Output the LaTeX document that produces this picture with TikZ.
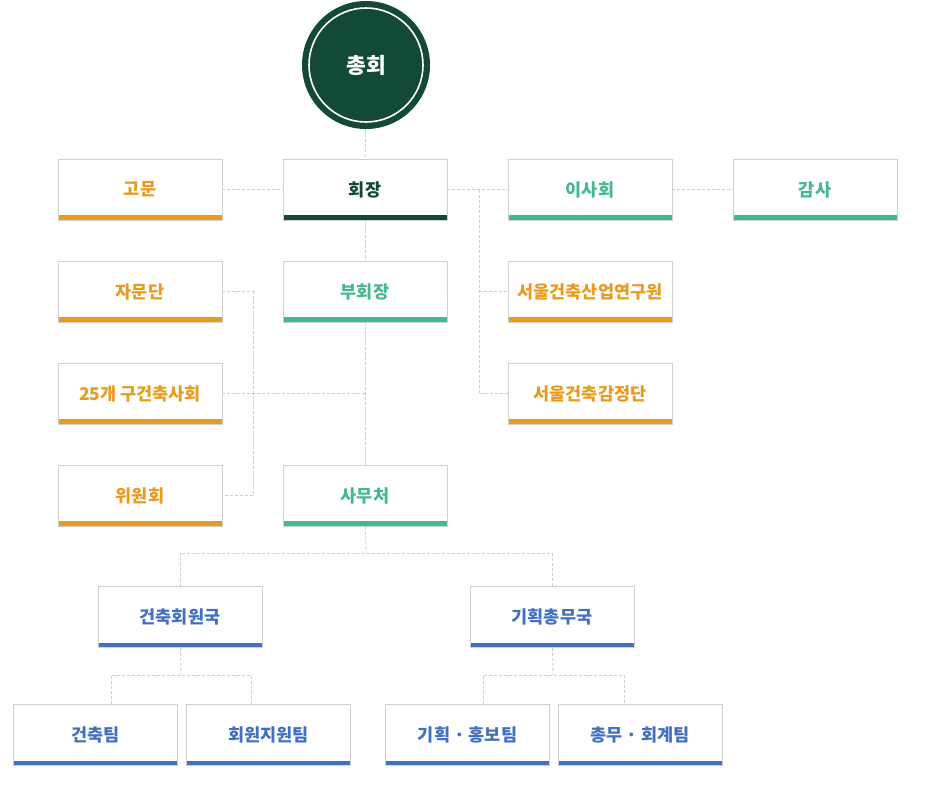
\documentclass[tikz,border=0pt]{standalone}
\usepackage{fontspec}
\newfontfamily\krfont{Noto Sans CJK KR}
\usetikzlibrary{calc}
\definecolor{dkgreen}{RGB}{19,74,53}
\definecolor{ltgreen}{RGB}{69,185,138}
\definecolor{amber}{RGB}{232,155,28}
\definecolor{steel}{RGB}{67,112,190}
\definecolor{boxgray}{RGB}{208,208,208}
\definecolor{linegray}{RGB}{205,205,205}

\begin{document}
\begin{tikzpicture}[x=1pt,y=-1pt,
  unit/.style={rectangle, draw=boxgray, line width=0.8pt, fill=white,
    minimum width=164pt, minimum height=61pt, inner sep=0pt,
    text=#1, font=\krfont\bfseries\fontsize{17.5}{19}\selectfont,
    path picture={\fill[#1] (path picture bounding box.south west)
      rectangle ([yshift=5pt]path picture bounding box.south east);}},
  link/.style={draw=linegray, line width=0.9pt, dash pattern=on 3pt off 2pt}]

\useasboundingbox (0,0) rectangle (928,806);

% Top
  \node[circle, fill=dkgreen, minimum size=128pt, inner sep=0pt, text=white,
    font=\krfont\bfseries\fontsize{21.5}{23}\selectfont] (top) at (366,65) {총회};
  \draw[white, line width=1.6pt] (top.center) circle[radius=57pt];

% Row 1
  \node[unit=amber] (advisor) at (140,189.5) {고문};
  \node[unit=dkgreen] (chair) at (365,189.5) {회장};
  \node[unit=ltgreen] (board) at (590,189.5) {이사회};
  \node[unit=ltgreen] (audit) at (815,189.5) {감사};

% Left column and centre
  \node[unit=amber] (consult) at (140,291.5) {자문단};
  \node[unit=ltgreen] (vicechair) at (365,291.5) {부회장};
  \node[unit=amber] (district) at (140,393.5) {25개 구건축사회};
  \node[unit=amber] (committee) at (140,495.5) {위원회};
  \node[unit=ltgreen] (secretariat) at (365,495.5) {사무처};

% Right column
  \node[unit=amber] (institute) at (590,291.5) {서울건축산업연구원};
  \node[unit=amber] (appraisal) at (590,393.5) {서울건축감정단};

% Departments and teams
  \node[unit=steel] (memberdept) at (180,617) {건축회원국};
  \node[unit=steel] (plandept) at (552,617) {기획총무국};
  \node[unit=steel] (archteam) at (95.5,735) {건축팀};
  \node[unit=steel] (supportteam) at (268.5,735) {회원지원팀};
  \node[unit=steel] (prteam) at (467.5,735) {기획 · 홍보팀};
  \node[unit=steel] (acctteam) at (640,735) {총무 · 회계팀};

% Links
  \coordinate (rtrunk) at (479,189.5);
  \coordinate (ltrunk) at (253,393.5);
  \coordinate (split) at (366,553);
  \coordinate (msplit) at (181,675);
  \coordinate (psplit) at (553,675);

  \draw[link] (top) -- (chair);
  \draw[link] (advisor) -- (chair);
  \draw[link] (chair) -- (board);
  \draw[link] (board) -- (audit);
  \draw[link] (chair) -- (vicechair);
  \draw[link] (vicechair) -- (secretariat);
  \draw[link] (rtrunk) |- (appraisal);
  \draw[link] (rtrunk |- institute) -- (institute);
  \draw[link] (consult) -| (ltrunk) |- (committee);
  \draw[link] (district) -- (district -| vicechair);
  \draw[link] (secretariat) -- (split);
  \draw[link] (memberdept) |- (split) -| (plandept);
  \draw[link] (memberdept) -- (msplit);
  \draw[link] ([xshift=16pt]archteam.north) |- (msplit) -| ([xshift=-17pt]supportteam.north);
  \draw[link] (plandept) -- (psplit);
  \draw[link] ([xshift=16pt]prteam.north) |- (psplit) -| ([xshift=-16pt]acctteam.north);
\end{tikzpicture}
\end{document}
